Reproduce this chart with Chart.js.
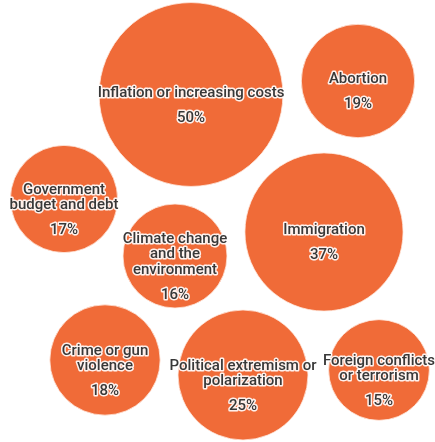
<!DOCTYPE html>
<html>
<head>
<meta charset="utf-8">
<script src="https://cdn.jsdelivr.net/npm/chart.js@4.4.0/dist/chart.umd.min.js"></script>
<style>
  html, body { margin: 0; padding: 0; background: #fff; }
  #wrap { width: 435px; height: 442px; }
</style>
</head>
<body>
<div id="wrap"><canvas id="myChart" width="435" height="442"></canvas></div>
<script>
// issues, share of people naming them (%), and where each bubble sits in the pack
var issues = [
  ['Inflation or increasing costs'],
  ['Abortion'],
  ['Government', 'budget and debt'],
  ['Immigration'],
  ['Climate change', 'and the', 'environment'],
  ['Crime or gun', 'violence'],
  ['Political extremism or', 'polarization'],
  ['Foreign conflicts', 'or terrorism']
];
var share = [50, 19, 17, 37, 16, 18, 25, 15];
var pack_x = [191, 358, 64, 324, 175, 105, 243, 379];
var pack_y = [94.5, 81, 199, 232, 256, 360, 375, 370];

var points = [];
for (let i = 0; i < share.length; i++) {
  points.push({ x: pack_x[i], y: pack_y[i], v: share[i] });
}

// labels drawn over the bubbles, dark text with a white halo
const bubbleLabels = {
  id: 'bubbleLabels',
  afterDatasetsDraw(chart) {
    const ctx = chart.ctx;
    const meta = chart.getDatasetMeta(0);
    ctx.save();
    ctx.textAlign = 'center';
    ctx.textBaseline = 'middle';
    ctx.lineJoin = 'round';
    ctx.font = '500 15px Roboto';
    meta.data.forEach(function (el, i) {
      const lines = issues[i];
      const lh = 15.5;
      let y0 = el.y - (lines.length - 1) * lh / 2 - 1.5;
      const drawText = function (t, x, y) {
        ctx.lineWidth = 3;
        ctx.strokeStyle = 'rgba(255,255,255,0.9)';
        ctx.strokeText(t, x, y);
        ctx.fillStyle = '#383838';
        ctx.fillText(t, x, y);
      };
      lines.forEach(function (t, j) {
        drawText(t, el.x, y0 + j * lh);
      });
      drawText(share[i] + '%', el.x, y0 + (lines.length - 1) * lh + 25);
    });
    ctx.restore();
  }
};

const config = {
  type: 'bubble',
  data: {
    labels: issues.map(l => l.join(' ')),
    datasets: [{
      data: points,
      backgroundColor: 'rgb(240, 107, 56)',
      borderColor: 'rgba(255, 235, 225, 0.8)',
      borderWidth: 1,
      radius: c => 13 * Math.sqrt(c.raw.v),
      clip: false
    }]
  },
  options: {
    responsive: false,
    animation: false,
    events: [],
    layout: { padding: 0, autoPadding: false },
    plugins: { legend: { display: false }, tooltip: { enabled: false } },
    scales: {
      x: { type: 'linear', min: 0, max: 435, display: false },
      y: { type: 'linear', min: 0, max: 442, reverse: true, display: false }
    }
  },
  plugins: [bubbleLabels]
};

var myChart = new Chart(document.getElementById('myChart'), config);
</script>
</body>
</html>
